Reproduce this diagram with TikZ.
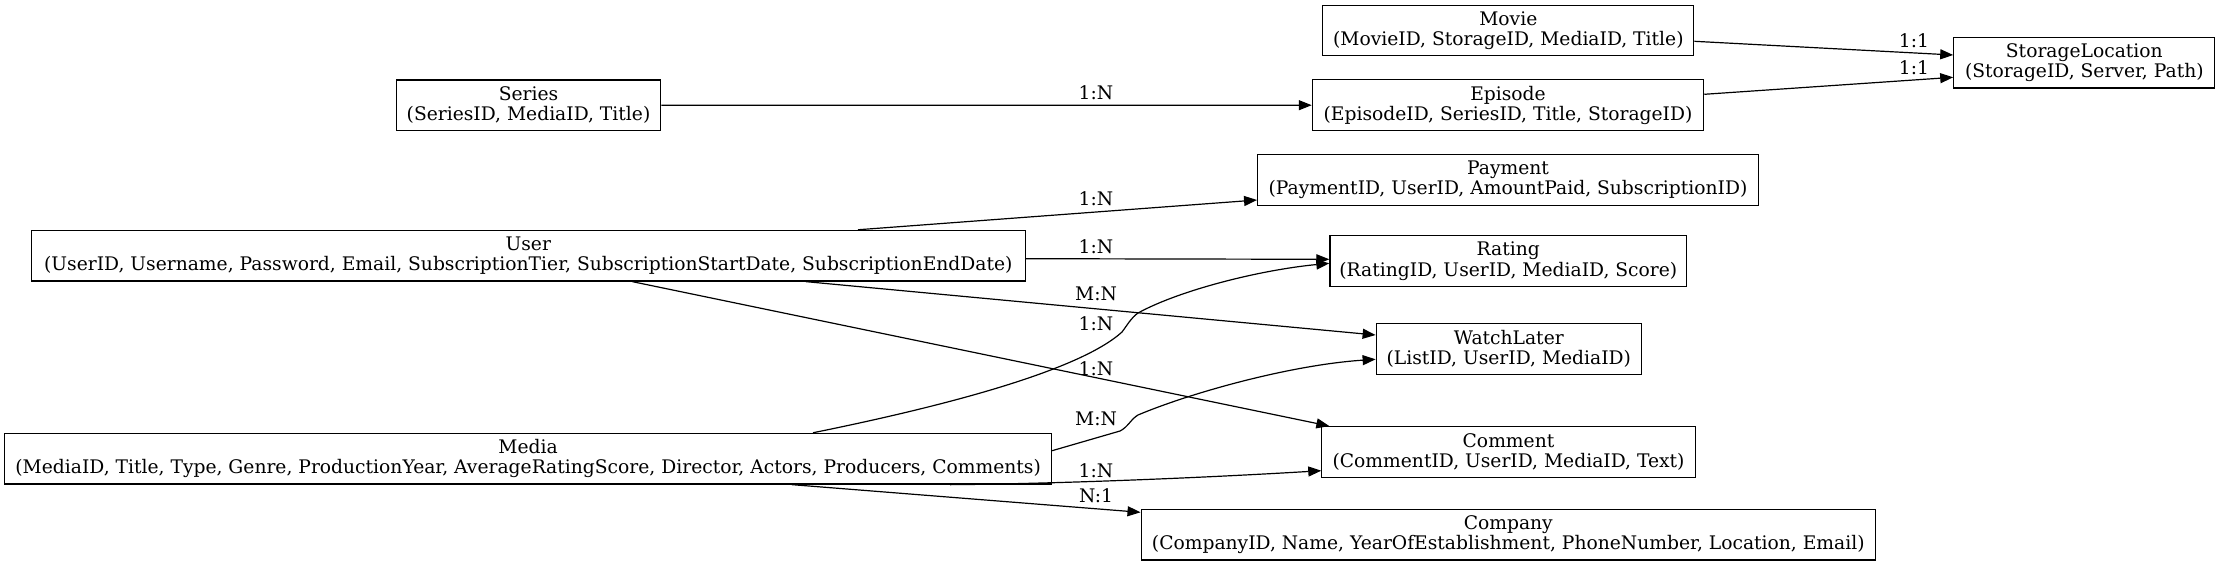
\documentclass[tikz,border=0pt]{standalone}
\usepackage{fontspec}
\setmainfont{DejaVu Serif}
\usetikzlibrary{arrows.meta,calc}
\begin{document}
\begin{tikzpicture}[x=1pt,y=-1pt,
  ent/.style={draw=black,line width=1.2pt,inner xsep=0pt,inner ysep=0pt,minimum height=50.7pt,align=center,
    font=\fontsize{18.7pt}{20.2pt}\selectfont},
  lab/.style={inner sep=0pt,font=\fontsize{18.7pt}{20.2pt}\selectfont},
  rel/.style={line width=1.2pt,-{Triangle[length=13pt,width=10pt]}}]
\useasboundingbox (0,0) rectangle (2221,565);
% entities
\node[ent,minimum width=371pt]   (movie)   at (1508.3,30.5)  {Movie\\(MovieID, StorageID, MediaID, Title)};
\node[ent,minimum width=264.3pt] (series)  at (528.5,105.3)  {Series\\(SeriesID, MediaID, Title)};
\node[ent,minimum width=391.3pt] (episode) at (1508,105.2)   {Episode\\(EpisodeID, SeriesID, Title, StorageID)};
\node[ent,minimum width=261pt]   (storage) at (2084.3,62.7)  {StorageLocation\\(StorageID, Server, Path)};
\node[ent,minimum width=500.7pt] (payment) at (1508,179.8)   {Payment\\(PaymentID, UserID, AmountPaid, SubscriptionID)};
\node[ent,minimum width=994.4pt] (user)    at (528.3,255.7)  {User\\(UserID, Username, Password, Email, SubscriptionTier, SubscriptionStartDate, SubscriptionEndDate)};
\node[ent,minimum width=356.8pt] (rating)  at (1508.3,261.2) {Rating\\(RatingID, UserID, MediaID, Score)};
\node[ent,minimum width=265.2pt] (watch)   at (1508.8,349.2) {WatchLater\\(ListID, UserID, MediaID)};
\node[ent,minimum width=373.3pt] (comment) at (1508.5,452)   {Comment\\(CommentID, UserID, MediaID, Text)};
\node[ent,minimum width=1046.8pt](media)   at (528.1,458.7)  {Media\\(MediaID, Title, Type, Genre, ProductionYear, AverageRatingScore, Director, Actors, Producers, Comments)};
\node[ent,minimum width=734.4pt] (company) at (1508.3,534.7) {Company\\(CompanyID, Name, YearOfEstablishment, PhoneNumber, Location, Email)};
% connectors
\draw[rel] (series.east) -- (episode.west);
\draw[rel] ($(movie.east)+(0,10.8)$) -- ($(storage.west)+(0,-7.7)$);
\draw[rel] ($(episode.east)+(0,-10.9)$) -- ($(storage.west)+(0,14.6)$);
\draw[rel] ($(user.north)+(329.7,0)$) -- ($(payment.west)+(0,20.2)$);
\draw[rel] ($(user.east)+(0,3)$) -- ($(rating.west)+(0,-1.9)$);
\draw[rel] ($(user.south)+(277.7,0)$) -- ($(watch.west)+(0,-14.2)$);
\draw[rel] ($(user.south)+(104.1,0)$) -- ($(comment.north west)+(8.1,0)$);
\draw[rel] ($(media.north)+(284.9,0)$) .. controls (950,405) and (1080,370) .. (1122,332)
  .. controls (1128,324) and (1131,318) .. (1138,313)
  .. controls (1180,290) and (1260,270) .. ($(rating.west)+(0,2.1)$);
\draw[rel] ($(media.east)+(0,-8)$) -- (1120,431)
  .. controls (1128,427) and (1131,419) .. (1138,415)
  .. controls (1190,393) and (1290,365) .. ($(watch.west)+(0,10.1)$);
\draw[rel] ($(media.south)+(421.9,0)$) .. controls (1050,484) and (1200,478) .. ($(comment.west)+(0,18.7)$);
\draw[rel] ($(media.south)+(263.9,0)$) -- ($(company.west)+(0,-22.4)$);
% labels
\node[lab] (l1)  at (1096,93)    {1:N};
\node[lab] (l2)  at (1914,40.7)  {1:1};
\node[lab] (l3)  at (1914,67.3)  {1:1};
\node[lab] (l4)  at (1096,198.3) {1:N};
\node[lab] (l5)  at (1096,246.3) {1:N};
\node[lab] (l6)  at (1096,294)   {M:N};
\node[lab] (l7)  at (1096,323.3) {1:N};
\node[lab] (l8)  at (1096,368.3) {1:N};
\node[lab] (l9)  at (1096,419)   {M:N};
\node[lab] (l10) at (1096,470.7) {1:N};
\node[lab] (l11) at (1096,495.7) {N:1};
\end{tikzpicture}
\end{document}
